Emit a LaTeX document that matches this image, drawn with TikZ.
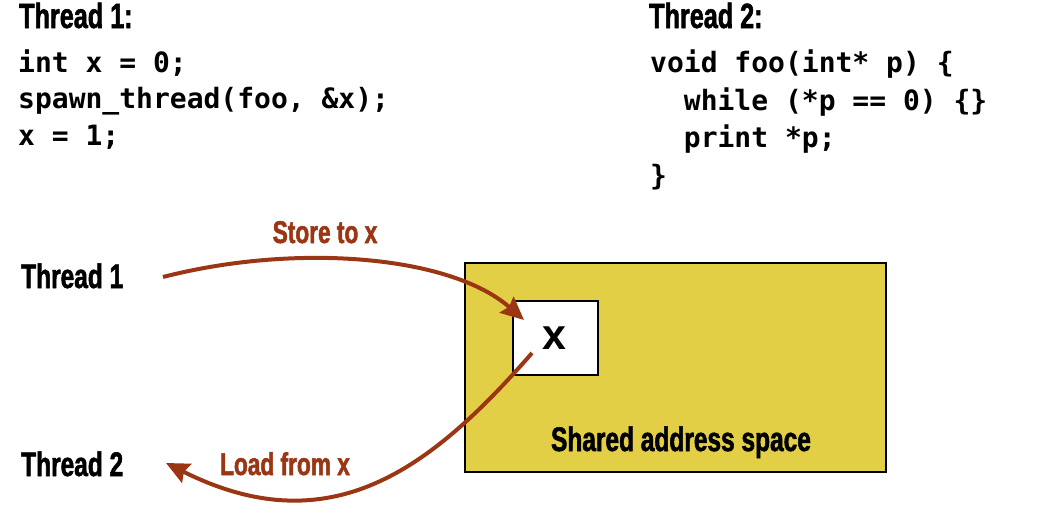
\documentclass[tikz,border=0pt]{standalone}
\usepackage{fontspec}
\usetikzlibrary{arrows.meta,calc}
\newfontfamily\lblfont[FakeStretch=0.72,BoldFeatures={FakeBold=1.6}]{Liberation Sans}
\newfontfamily\xfont{Liberation Sans}
\newfontfamily\codefont{DejaVu Sans Mono}
\definecolor{arrowred}{RGB}{155,54,20}
\definecolor{memyellow}{RGB}{226,207,69}
\tikzset{
  head/.style={font=\lblfont\bfseries\fontsize{35}{35}\selectfont, inner sep=0pt, anchor=base west},
  threadlbl/.style={font=\lblfont\bfseries\fontsize{34}{34}\selectfont, inner sep=0pt, anchor=base west},
  redlbl/.style={font=\lblfont\bfseries\fontsize{31.5}{31.5}\selectfont, text=arrowred, inner sep=0pt, anchor=base},
  codeline/.style={font=\codefont\bfseries\fontsize{28}{28}\selectfont, inner sep=0pt, anchor=base west},
  arr/.style={draw=arrowred, line width=4pt, -{Stealth[length=23pt,width=21pt,inset=3pt]}},
  membox/.style={draw=black, line width=2pt, fill=memyellow, minimum width=421pt, minimum height=209pt, inner sep=0pt},
  varbox/.style={draw=black, line width=2pt, fill=white, minimum width=85pt, minimum height=74pt, inner sep=0pt},
  xlbl/.style={font=\xfont\bfseries\fontsize{43}{43}\selectfont, inner sep=0pt, anchor=base}
}
\begin{document}
\begin{tikzpicture}[x=1pt,y=-1pt]
\useasboundingbox (0,0) rectangle (1050,522);
% code
\node[head] (h1) at (19,28) {Thread 1:};
\node[codeline] (c11) at (18,72) {int x = 0;};
\node[codeline] (c12) at (18,108.5) {spawn\_thread(foo, \&x);};
\node[codeline] (c13) at (18,145) {x = 1;};
\node[head] (h2) at (649,28) {Thread 2:};
\node[codeline] (c21) at (650,72.5) {void foo(int* p) \{};
\node[codeline] (c22) at (650,110) {\ \ while (*p == 0) \{\}};
\node[codeline] (c23) at (650,147.5) {\ \ print *p;};
\node[codeline] (c24) at (650,185) {\}};
% diagram
\node[membox] (mem) at (675.5,367.5) {};
\node[varbox] (xbox) at (555.5,338) {};
\node[xlbl] (xl) at (554.5,349.5) {x};
\node[font=\lblfont\bfseries\fontsize{34}{34}\selectfont, inner sep=0pt, anchor=base] (shared) at (681,451) {Shared address space};
\node[threadlbl] (t1) at (21,288) {Thread 1};
\node[threadlbl] (t2) at (21,476) {Thread 2};
\node[redlbl] (store) at (325,243) {Store to x};
\node[redlbl] (load) at (285,475) {Load from x};
\coordinate (s1) at (163,277);
\coordinate (e1) at ($(xbox.north west)+(12,20)$);
\coordinate (s2) at (532,353);
\coordinate (e2) at (166,463);
\draw[arr] (s1) .. controls (295,243) and (450,255) .. (e1);
\draw[arr] (s2) .. controls (430,470) and (330,545) .. (e2);
\end{tikzpicture}
\end{document}
